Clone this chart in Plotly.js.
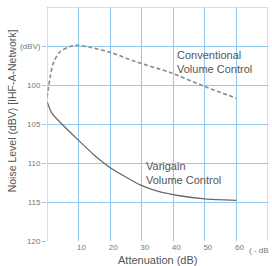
<!DOCTYPE html>
<html><head><meta charset="utf-8">
<script src="https://cdn.plot.ly/plotly-3.0.1.min.js"></script>
<style>html,body{margin:0;padding:0;background:#fff;}#chart{width:272px;height:266px;}</style>
</head><body><div id="chart"></div>
<script>
// Conventional volume control (dashed)
const convAtten = [0, 1, 2, 4, 7, 9.5, 14, 20, 28, 39, 50, 60];
const convNoise = [101.6, 99.0, 97.2, 95.8, 95.1, 94.9, 95.2, 95.8, 97.0, 98.4, 100.2, 101.7];
// Varigain volume control (solid)
const varAtten = [0, 1.5, 4.7, 10, 15, 18, 20, 25, 29.5, 35, 42, 50, 60];
const varNoise = [102.1, 103.6, 105.0, 107.1, 109.0, 110.0, 110.6, 111.8, 112.8, 113.6, 114.2, 114.6, 114.8];
// ticks
const xTickVals = [10, 20, 30, 40, 50, 60];
const xTickText = ["10", "20", "30", "40", "50", "60"];
const yTickVals = [95, 100, 105, 110, 115, 120];
const yTickText = ["(dBV)", "100", "105", "110", "115", "120"];

const W = 272, H = 266;
const L = 46.7, R = 4, T = 7, B = 25;
const grid = '#93c9ee';
const txt = '#555';
const fam = '"Liberation Sans", Arial, sans-serif';

const traces = [
  {x: convAtten, y: convNoise, mode: 'lines', line: {color: '#8a8a8a', width: 1.6, dash: '4px,2.5px', shape: 'spline', smoothing: 0.8}, hoverinfo: 'skip'},
  {x: varAtten, y: varNoise, mode: 'lines', line: {color: '#6a6a6a', width: 1.3, shape: 'spline', smoothing: 0.6}, hoverinfo: 'skip'}
];

const layout = {
  width: W, height: H,
  margin: {l: L, r: R, t: T, b: B, pad: 0},
  paper_bgcolor: '#fff', plot_bgcolor: '#fff',
  showlegend: false,
  font: {family: fam, color: txt, size: 11},
  xaxis: {
    range: [0, 70], tickvals: xTickVals, ticktext: xTickText,
    showgrid: true, gridcolor: grid, gridwidth: 1,
    zeroline: false, showline: false, ticks: '', ticklabelshift: 3,
    tickfont: {size: 8, color: '#777', family: fam},
    fixedrange: true
  },
  yaxis: {
    range: [120, 90], tickvals: yTickVals, ticktext: yTickText,
    showgrid: true, gridcolor: grid, gridwidth: 1,
    zeroline: false, showline: false, ticks: 'outside', ticklen: 4, tickcolor: grid,
    tickfont: {size: 8, color: '#777', family: fam},
    fixedrange: true
  },
  shapes: [
    {type: 'line', xref: 'x', yref: 'paper', x0: 0, x1: 0, y0: 0, y1: 1, line: {color: grid, width: 1}},
    {type: 'line', xref: 'x', yref: 'paper', x0: 70, x1: 70, y0: 0, y1: 1, line: {color: grid, width: 1}},
    {type: 'line', xref: 'paper', yref: 'y', x0: 0, x1: 1, y0: 90, y1: 90, line: {color: grid, width: 1}}
  ],
  annotations: [
    {x: 40.6, y: 97.0, xref: 'x', yref: 'y', text: 'Conventional<br>Volume Control', showarrow: false, xanchor: 'left', yanchor: 'middle', align: 'left', font: {size: 11, color: txt, family: fam}},
    {x: 30.8, y: 111.3, xref: 'x', yref: 'y', text: 'Varigain<br>Volume Control', showarrow: false, xanchor: 'left', yanchor: 'middle', align: 'left', font: {size: 11, color: txt, family: fam}},
    {x: (247 - L) / (W - L - R), y: 0, xref: 'paper', yref: 'paper', yshift: -9, text: '( - dB', showarrow: false, xanchor: 'left', yanchor: 'middle', font: {size: 8, color: '#777', family: fam}},
    {x: 0.5, y: 0, xref: 'paper', yref: 'paper', yshift: -19, text: 'Attenuation (dB)', showarrow: false, xanchor: 'center', yanchor: 'middle', font: {size: 11, color: txt, family: fam}},
    {x: (12 - L) / (W - L - R), y: 1 - (111 - T) / (H - T - B), xref: 'paper', yref: 'paper', text: 'Noise Level (dBV) [IHF-A-Network]', textangle: -90, showarrow: false, xanchor: 'center', yanchor: 'middle', font: {size: 10.5, color: txt, family: fam}}
  ]
};

Plotly.newPlot('chart', traces, layout, {displayModeBar: false, staticPlot: true});
</script>
</body></html>
